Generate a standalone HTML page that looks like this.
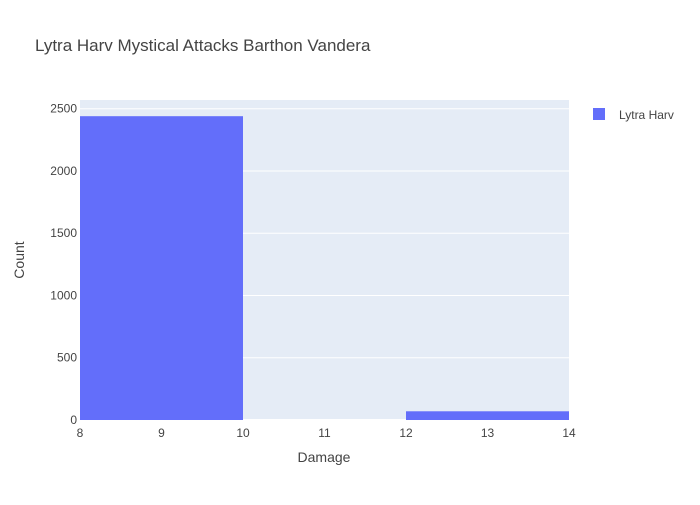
<!DOCTYPE html>
<html><head><meta charset="utf-8"><style>
body{margin:0;background:#fff;font-family:"Liberation Sans",sans-serif;}
text{font-family:"Liberation Sans",sans-serif;}
</style></head><body>
<svg id="chart" width="700" height="500">
<rect width="700" height="500" fill="#fff"/>
<text x="35" y="51" font-size="17" fill="#444">Lytra Harv Mystical Attacks Barthon Vandera</text>
<rect x="80" y="100" width="489" height="320" fill="#e5ecf6"/>
<g id="grid"></g><g id="bars"></g><g id="ticks"></g>
<text x="324" y="462" font-size="14" fill="#444" text-anchor="middle">Damage</text>
<text x="24" y="260" font-size="14" fill="#444" text-anchor="middle" transform="rotate(-90 24 260)">Count</text>
<g>
<rect x="593" y="108" width="12" height="12" fill="#636efa"/>
<text x="619" y="119" font-size="12" fill="#444">Lytra Harv</text>
</g>
</svg>
<script>
const binStarts=[8,10,12];
const binEnds=[10,12,14];
const counts=[2440,0,70];
const xTicks=[8,9,10,11,12,13,14];
const yTicks=[0,500,1000,1500,2000,2500];
const X0=80,X1=569,Y0=420,Y1=100,xmin=8,xmax=14,ymax=2570;
const sx=v=>X0+(v-xmin)/(xmax-xmin)*(X1-X0);
const sy=v=>Y0-v/ymax*(Y0-Y1);
const NS="http://www.w3.org/2000/svg";
const grid=document.getElementById('grid'),bars=document.getElementById('bars'),ticks=document.getElementById('ticks');
yTicks.forEach(t=>{
 const l=document.createElementNS(NS,'line');
 l.setAttribute('x1',X0);l.setAttribute('x2',X1);l.setAttribute('y1',sy(t));l.setAttribute('y2',sy(t));
 l.setAttribute('stroke','#fff');l.setAttribute('stroke-width',t===0?2:1);
 
 
 grid.appendChild(l);
 const tx=document.createElementNS(NS,'text');
 tx.setAttribute('x',X0-3);tx.setAttribute('y',sy(t)+4);tx.setAttribute('text-anchor','end');
 tx.setAttribute('font-size','12');tx.setAttribute('fill','#444');tx.textContent=t;
 
 
 ticks.appendChild(tx);
});
xTicks.forEach(t=>{
 const tx=document.createElementNS(NS,'text');
 tx.setAttribute('x',sx(t));tx.setAttribute('y',Y0+17);tx.setAttribute('text-anchor','middle');
 tx.setAttribute('font-size','12');tx.setAttribute('fill','#444');tx.textContent=t;
 
 
 ticks.appendChild(tx);
});
counts.forEach((c,i)=>{
 if(c<=0)return;
 const r=document.createElementNS(NS,'rect');
 r.setAttribute('x',sx(binStarts[i]));r.setAttribute('width',sx(binEnds[i])-sx(binStarts[i]));
 r.setAttribute('y',sy(c));r.setAttribute('height',Y0-sy(c));r.setAttribute('fill','#636efa');
 
 
 bars.appendChild(r);
});
</script>
</body></html>
